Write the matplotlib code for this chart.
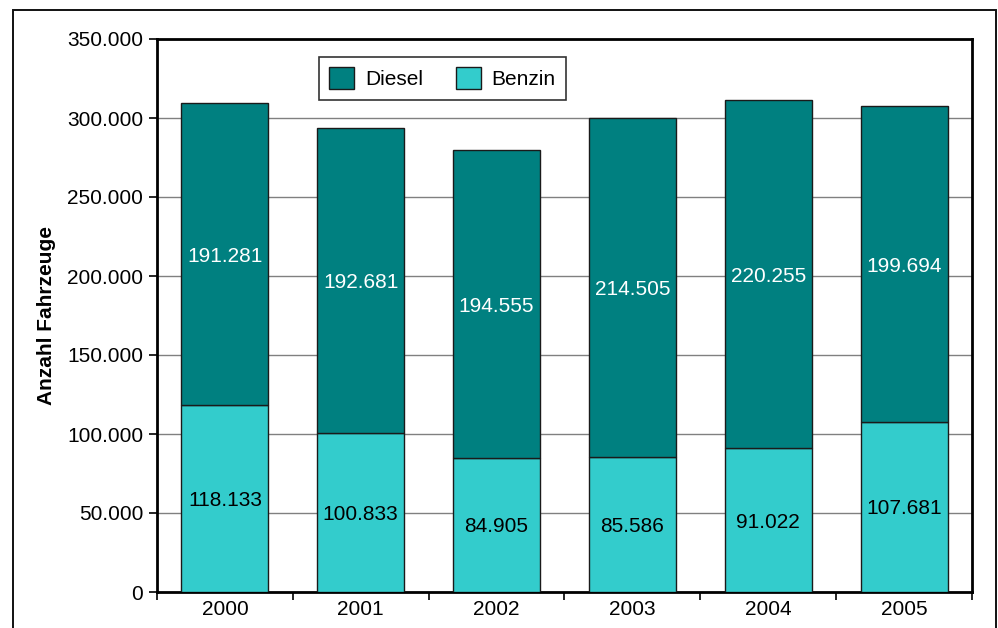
import matplotlib
matplotlib.use("Agg")
import matplotlib.pyplot as plt
from matplotlib.patches import Rectangle
import numpy as np

plt.rcParams['font.family'] = ['Liberation Sans', 'DejaVu Sans']

years = ["2000", "2001", "2002", "2003", "2004", "2005"]
benzin = [118133, 100833, 84905, 85586, 91022, 107681]
diesel = [191281, 192681, 194555, 214505, 220255, 199694]
yticks = [0, 50000, 100000, 150000, 200000, 250000, 300000, 350000]

def de_fmt(v):
    return f"{v:,.0f}".replace(",", ".")

W, H = 998, 628
fig = plt.figure(figsize=(W / 100, H / 100), dpi=100)

# outer frame around the chart area
fig.patches.append(Rectangle((13 / W, -0.05), (996 - 13) / W, (H - 10) / H + 0.05,
                             transform=fig.transFigure, fill=False,
                             edgecolor="#111111", linewidth=1.4, clip_on=False))

ax = fig.add_axes([157 / W, (H - 592) / H, (972 - 157) / W, (592 - 39) / H])

x = np.arange(len(years))
bw = 0.64
c_benzin = "#33CCCC"
c_diesel = "#008080"

bb = ax.bar(x, benzin, bw, color=c_benzin, edgecolor="#1a1a1a", linewidth=1.0,
            label="Benzin", zorder=3)
bd = ax.bar(x, diesel, bw, bottom=benzin, color=c_diesel, edgecolor="#1a1a1a",
            linewidth=1.0, label="Diesel", zorder=3)

for xi, b, d in zip(x, benzin, diesel):
    ax.text(xi, b / 2, de_fmt(b), ha="center", va="center_baseline", fontsize=15,
            color="black", zorder=4)
    ax.text(xi, b + d / 2, de_fmt(d), ha="center", va="center_baseline", fontsize=15,
            color="white", zorder=4)

ax.set_xlim(-0.5, len(years) - 0.5)
ax.set_ylim(0, 350000)
ax.set_yticks(yticks)
ax.set_yticklabels([de_fmt(v) for v in yticks], fontsize=15)
ax.yaxis.grid(True, color="#808080", linewidth=1.0, zorder=0)
ax.set_axisbelow(True)

# category labels centred, tick marks on category boundaries
ax.set_xticks(x)
ax.set_xticklabels(years, fontsize=15)
ax.tick_params(axis="x", which="major", length=0, pad=6)
ax.set_xticks(np.arange(-0.5, len(years)), minor=True)
ax.tick_params(axis="x", which="minor", length=6, width=1.2, direction="out")
ax.tick_params(axis="y", length=6, width=1.2, direction="out", pad=4)

for s in ax.spines.values():
    s.set_linewidth(2.0)
    s.set_color("black")

ax.set_ylabel("Anzahl Fahrzeuge", fontsize=15, fontweight="bold", labelpad=8)

leg = ax.legend(handles=[bd, bb], labels=["Diesel", "Benzin"], loc="upper left",
                bbox_to_anchor=(319 / W, (H - 57) / H), bbox_transform=fig.transFigure,
                ncol=2, fontsize=15, frameon=True, fancybox=False,
                handlelength=1.2, handleheight=1.2, handletextpad=0.5,
                columnspacing=1.6, borderpad=0.5, borderaxespad=0)
leg.get_frame().set_edgecolor("black")
leg.get_frame().set_linewidth(1.2)

fig.savefig("out.png", dpi=100)
